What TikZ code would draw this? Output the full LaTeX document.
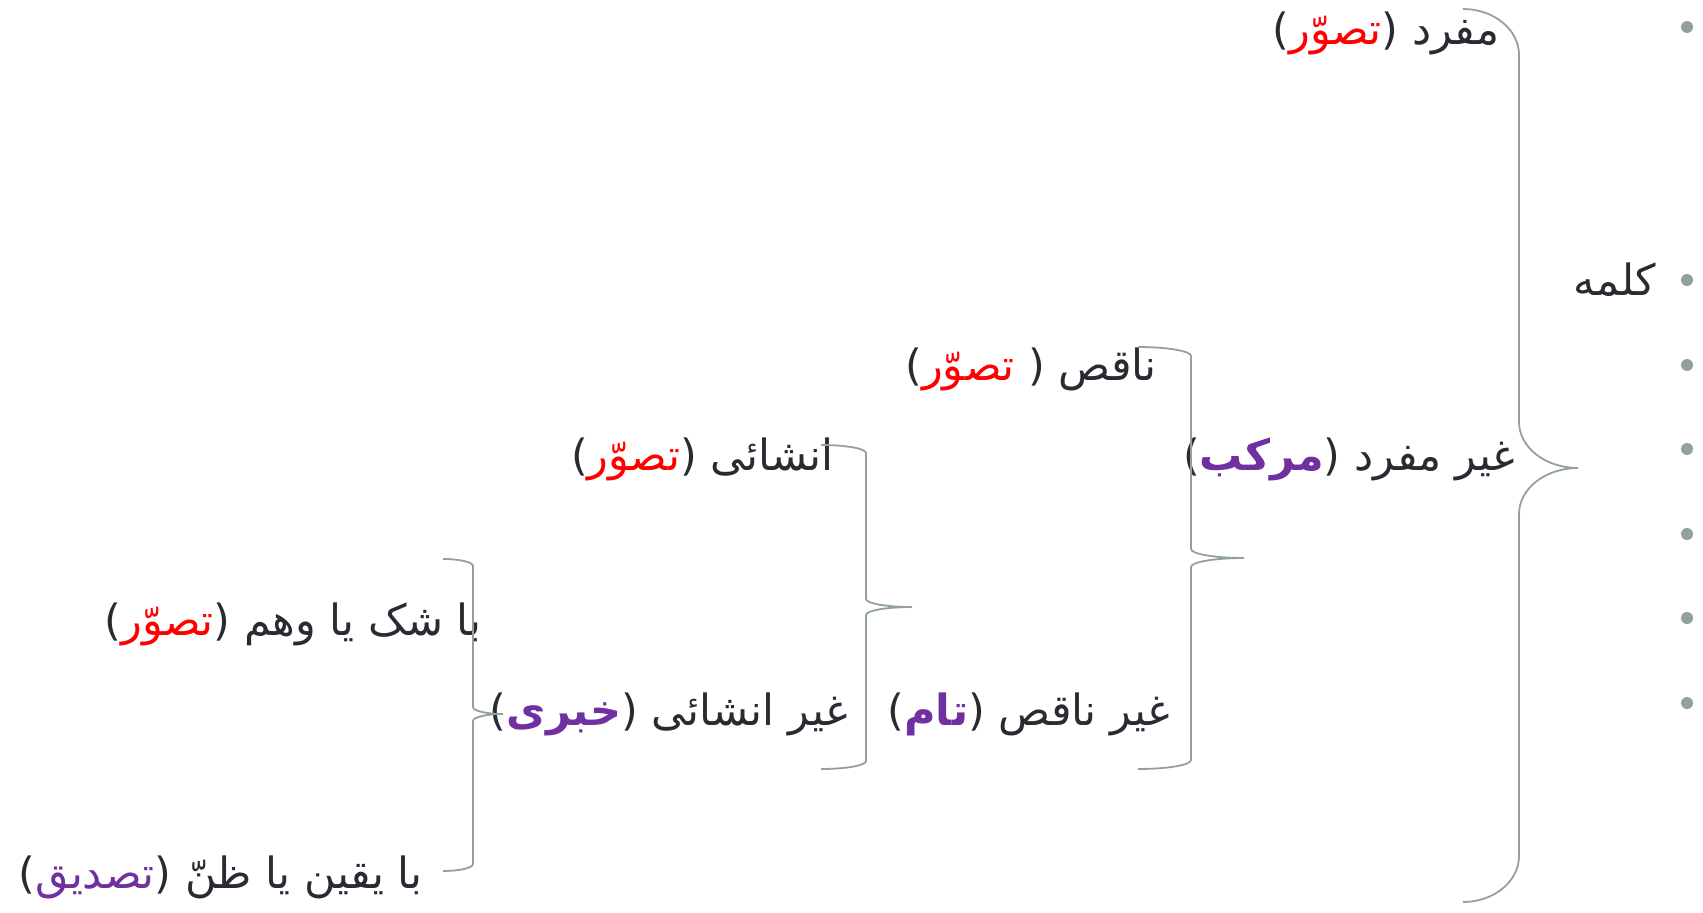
\documentclass[tikz,border=0pt]{standalone}
\usepackage{fontspec}
\TeXXeTstate=1
\newfontfamily\arabicfont[Script=Arabic]{DejaVu Sans}
\definecolor{txt}{HTML}{2A2A33}
\definecolor{brc}{HTML}{93A299}
\definecolor{tred}{HTML}{FF0000}
\definecolor{tpur}{HTML}{7030A0}
\newcommand\redw[1]{\textcolor{tred}{#1}}
\newcommand\purb[1]{\textcolor{tpur}{\bfseries #1}}
\newcommand\purw[1]{\textcolor{tpur}{#1}}
% a run of right-to-left words, kept as one box
\newcommand\rtl[1]{\hbox{\beginR #1\endR}}
% #1 tip x, #2 stem x, #3 cusp x, #4 top y, #5 cusp y, #6 bottom y, #7 curve height
\newcommand\mybrace[7]{%
  \draw[bracestroke] (#1,#4)
    .. controls ({#1+0.5523*(#2-#1)},#4) and (#2,{#4+0.4477*#7}) .. (#2,{#4+#7})
    -- (#2,{#5-#7})
    .. controls (#2,{#5-0.4477*#7}) and ({#3-0.5523*(#3-#2)},#5) .. (#3,#5)
    .. controls ({#3-0.5523*(#3-#2)},#5) and (#2,{#5+0.4477*#7}) .. (#2,{#5+#7})
    -- (#2,{#6-#7})
    .. controls (#2,{#6-0.4477*#7}) and ({#1+0.5523*(#2-#1)},#6) .. (#1,#6);}
\tikzset{
  lbl/.style={anchor=base east, inner sep=0pt, text=txt,
    font=\arabicfont\fontsize{43}{50}\selectfont},
  bracestroke/.style={draw=brc, line width=1.8pt},
  bulletdot/.style={circle, fill=brc, draw=none, inner sep=0pt, minimum size=12pt},
}
\begin{document}
\begin{tikzpicture}[x=1pt,y=-1pt]
\useasboundingbox (0,0) rectangle (1703,913);
% bullets
\foreach \yy/\nm in {27/b1,280/b2,365/b3,449/b4,534/b5,618/b6,703/b7}
  \node[bulletdot] (\nm) at (1687,\yy) {};
% labels: pieces in visual order (the font mirrors the bracket glyphs)
\node[lbl] (kalame) at (1656,295) {\rtl{کلمه}};
\node[lbl] (mofrad) at (1500,44) {)\redw{تصوّر}( \rtl{مفرد}};
\node[lbl] (gmofrad) at (1515,470) {)\purb{مرکب}( \rtl{غیر مفرد}};
\node[lbl] (naqes) at (1157,380) {)\redw{تصوّر} ( \rtl{ناقص}};
\node[lbl] (gnaqes) at (1170,725) {)\purb{تام}( \rtl{غیر ناقص}};
\node[lbl] (ensha) at (834,470) {)\redw{تصوّر}( \rtl{انشائی}};
\node[lbl] (gensha) at (848,725) {)\purb{خبری}( \rtl{غیر انشائی}};
\node[lbl] (shak) at (482,635) {)\redw{تصوّر}( \rtl{با شک یا وهم}};
\node[lbl] (yaqin) at (423,888) {)\purw{تصدیق}( \rtl{با یقین یا ظنّ}};
% braces
\mybrace{1463}{1519}{1578}{9}{468}{902}{46}
\mybrace{1138}{1191}{1244}{347}{558}{769}{9}
\mybrace{821}{866}{912}{445}{607}{769}{8}
\mybrace{443}{473}{503}{559}{714}{871}{7}
\end{tikzpicture}
\end{document}
